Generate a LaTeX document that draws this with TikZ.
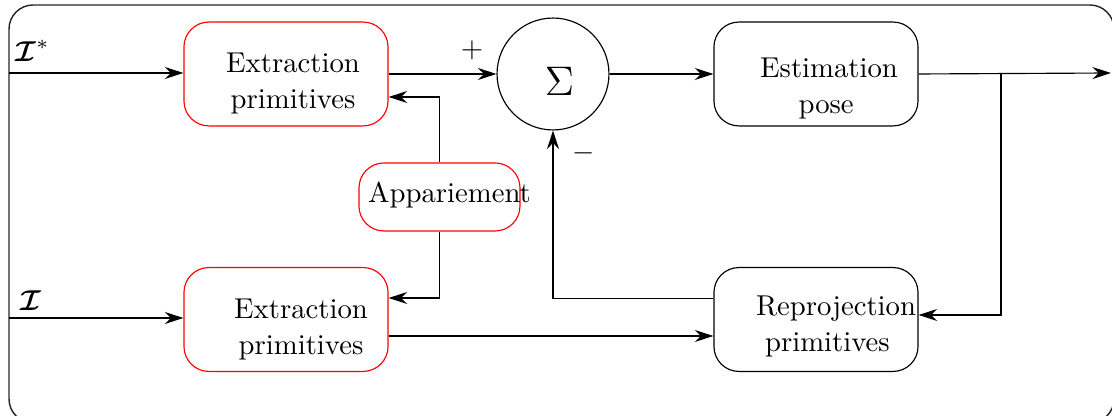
\documentclass[tikz,border=0pt]{standalone}
\usepackage{amsmath,bm}
\usetikzlibrary{arrows.meta,calc}

\begin{document}
\begin{tikzpicture}[x=0.3484pt,y=-0.3484pt,
  >={Stealth[length=6.5pt,width=4.2pt,inset=2.2pt]},
  box/.style={draw,rounded corners=8.7pt,minimum width=71.1pt,minimum height=36.2pt,inner sep=0pt},
  redbox/.style={box,draw=red},
  sumnode/.style={draw,circle,minimum size=39pt,inner sep=0pt},
  matchbox/.style={draw=red,rounded corners=8.7pt,minimum width=56.1pt,minimum height=23.7pt,inner sep=0pt},
  txt/.style={align=center,inner sep=0pt,font=\fontsize{10}{12.8}\selectfont},
  lbl/.style={inner sep=0pt},
  flow/.style={->,line width=0.4pt}
]
\useasboundingbox (0,0) rectangle (1112,416);

% frame
\draw[black!85,line width=0.5pt,rounded corners=8.4pt] (9,5) rectangle (1114,423);

% blocks
\node[redbox] (ext1) at (286,74) {};
\node[redbox] (ext2) at (286,319.5) {};
\node[sumnode] (sig) at (553,74) {};
\node[box] (est) at (816,74) {};
\node[box] (rep) at (816,319.5) {};
\node[matchbox] (app) at (439.5,197) {};

% block texts
\node[txt] (ext1t) at (293,83.5) {Extraction\\primitives};
\node[txt] (ext2t) at (301,329.5) {Extraction\\primitives};
\node[txt] (estt) at (829,88.5) {Estimation\\pose\hspace*{2pt}};
\node[txt] (rept) at (836,326.5) {Reprojection\\primitives\hspace*{6pt}};
\node[txt] (appt) at (449.5,195.5) {Appariement};
\node[lbl,font=\fontsize{15.5}{18}\selectfont] (sigt) at (559.5,81.5) {$\Sigma$};

% inputs and signs
\coordinate (in1) at (9,73);
\coordinate (in2) at (9,318);
\coordinate (out) at (1111,73);
\coordinate (tap) at (1001,73);
\node[lbl,anchor=base west] (lin1) at (15,62) {$\boldsymbol{\mathcal{I}}^{*}$};
\node[lbl,anchor=base west] (lin2) at (20,311) {$\boldsymbol{\mathcal{I}}$};
\node[lbl] (plus) at (472,50) {$+$};
\node[lbl] (minus) at (584,153) {$-$};

% connectors
\draw[flow] (in1) -- (in1 -| ext1.west);
\draw[flow] (in2) -- (in2 -| ext2.west);
\draw[flow] (ext1.east) -- (sig.west);
\draw[flow] (app.north) |- ($(ext1.east)+(0,23)$);
\draw[flow] (app.south) |- ($(ext2.east)+(0,-21.5)$);
\draw[flow] ($(ext2.east)+(0,16.5)$) -- ($(rep.west)+(0,16.5)$);
\draw[flow] ($(rep.west)+(0,-21)$) -| (sig.south);
\draw[flow] (sig.east) -- (est.west);
\draw[flow] (est.east) -- (out);
\draw[flow] (tap) |- ($(rep.east)+(0,-4.5)$);
\end{tikzpicture}
\end{document}
